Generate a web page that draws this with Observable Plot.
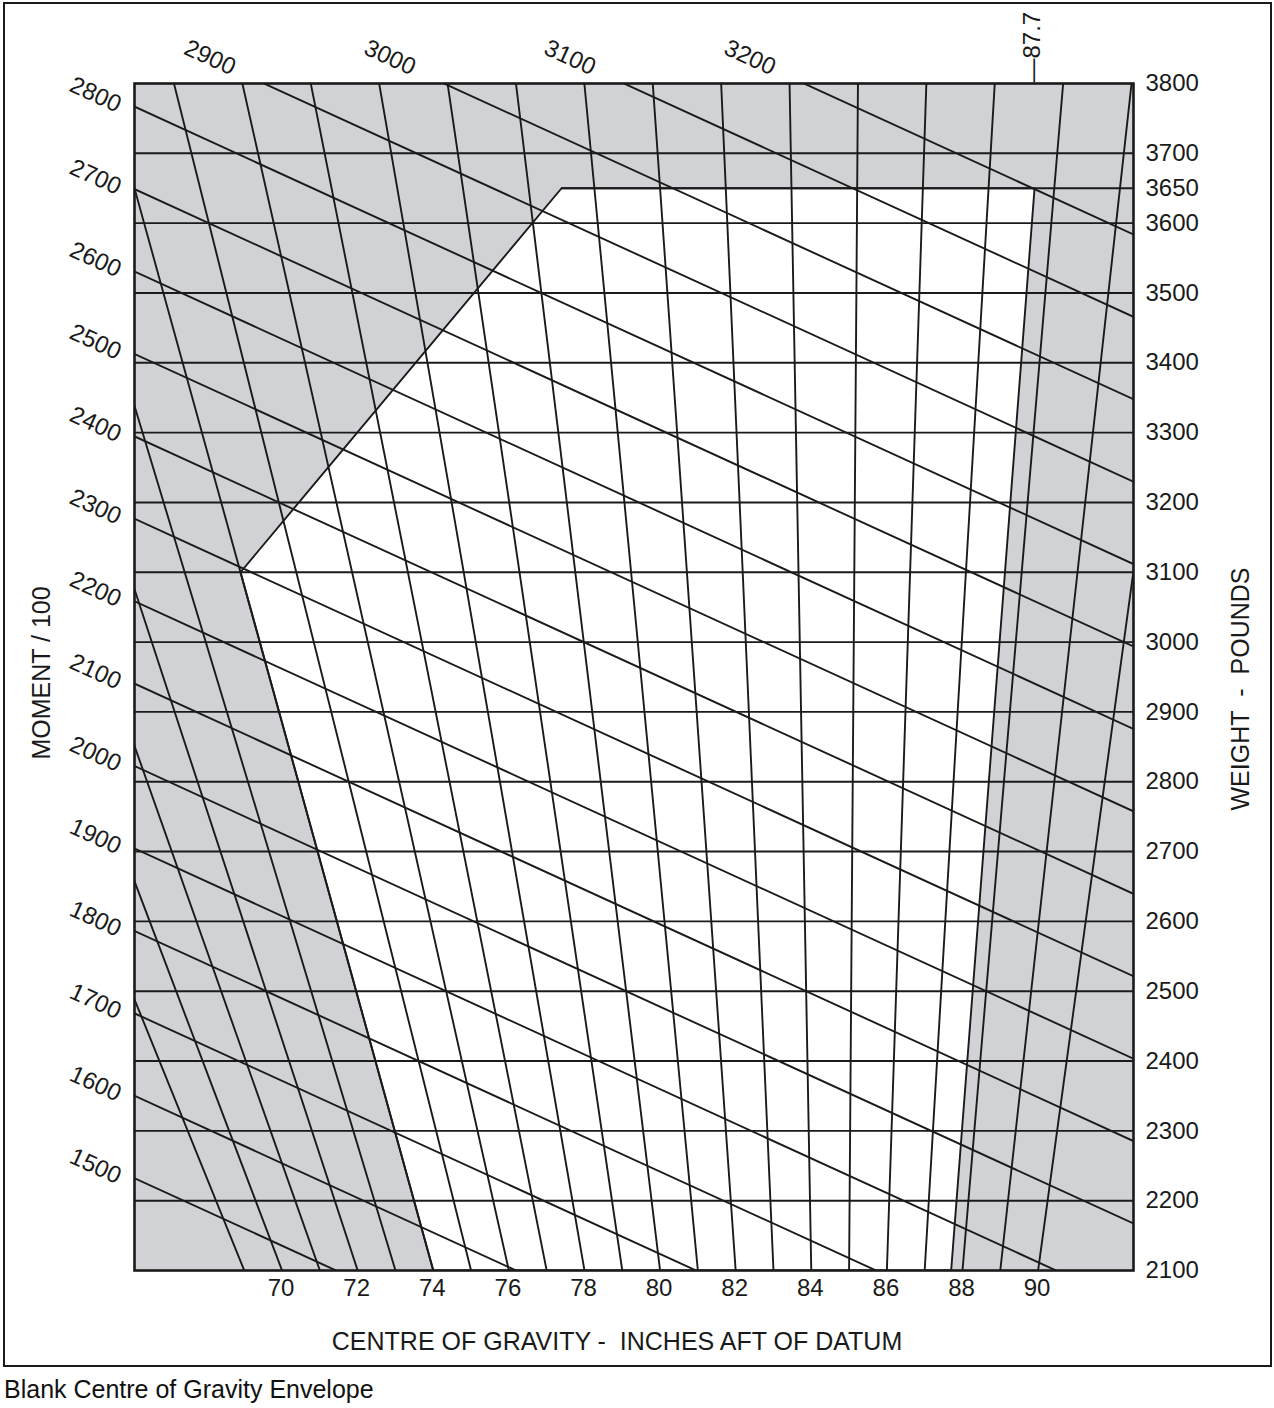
<!DOCTYPE html>
<html>
<head>
<meta charset="utf-8">
<script src="https://cdn.jsdelivr.net/npm/d3@7"></script>
<script src="https://cdn.jsdelivr.net/npm/@observablehq/plot@0.6"></script>
<style>
  body { margin: 0; background: #fff; font-family: "Liberation Sans", Arial, sans-serif; }
  #page { position: relative; width: 1274px; height: 1408px; }
  #chart { position: absolute; left: 0; top: 0; }
  #box { position: absolute; left: 3px; top: 2px; width: 1269px; height: 1365px; border: 2px solid #1a1a1a; box-sizing: border-box; pointer-events: none; }
  #caption { position: absolute; left: 4px; top: 1377px; font-size: 25px; line-height: 24px; color: #111; white-space: nowrap; }
</style>
</head>
<body>
<div id="page">
  <div id="chart"></div>
  <div id="box"></div>
  <div id="caption">Blank Centre of Gravity Envelope</div>
</div>
<script>
(function () {
  'use strict';

  // ---- data ----
  const weightTicks = [2100, 2200, 2300, 2400, 2500, 2600, 2700, 2800, 2900, 3000,
                       3100, 3200, 3300, 3400, 3500, 3600, 3650, 3700, 3800];
  const weightGrid = [2200, 2300, 2400, 2500, 2600, 2700, 2800, 2900, 3000,
                      3100, 3200, 3300, 3400, 3500, 3600, 3700];
  const cgLines = [69, 70, 71, 72, 73, 74, 75, 76, 77, 78, 79, 80,
                   81, 82, 83, 84, 85, 86, 87, 88, 89, 90];
  const cgLabels = [70, 72, 74, 76, 78, 80, 82, 84, 86, 88, 90];
  const momentLines = [1500, 1600, 1700, 1800, 1900, 2000, 2100, 2200, 2300,
                       2400, 2500, 2600, 2700, 2800, 2900, 3000, 3100, 3200];
  const momentSide = [1500, 1600, 1700, 1800, 1900, 2000, 2100,
                      2200, 2300, 2400, 2500, 2600, 2700, 2800];
  const momentTop = [2900, 3000, 3100, 3200];
  const envelope = [
    { cg: 74.0, w: 2100 },
    { cg: 74.0, w: 3100 },
    { cg: 80.5, w: 3650 },
    { cg: 87.7, w: 3650 },
    { cg: 87.7, w: 2100 },
    { cg: 74.0, w: 2100 }
  ];
  const aftLimit = 87.7;
  const topEdge = { cg: 80.5, w: 3650 };

  // ---- chart geometry: sheared axes, x = moment/100 - SKEW * weight ----
  const SKEW = 0.8471;
  const xDomain = [-390.9, 164.1];
  const yDomain = [2100, 3800];
  const ink = '#1a1a1a';
  const shade = '#d0d2d6';
  const lw = 1.9;
  const slant = 24.6;

  const sx = (moment, w) => moment - SKEW * w;
  const cgX = (cg, w) => sx(cg * w / 100, w);

  const cgSegs = cgLines.flatMap(cg => [{ cg, w: 1900 }, { cg, w: 4000 }]);
  const momentSegs = momentLines.flatMap(m => [{ m, w: 1900 }, { m, w: 4300 }]);

  const chart = Plot.plot({
    width: 1274,
    height: 1366,
    marginLeft: 134,
    marginRight: 141,
    marginTop: 83,
    marginBottom: 96,
    style: {
      background: 'transparent',
      color: ink,
      fontSize: '24px',
      fontFamily: '"Liberation Sans", Arial, sans-serif',
      overflow: 'visible'
    },
    x: { domain: xDomain, axis: null },
    y: { domain: yDomain },
    marks: [
      // shaded background and the white envelope
      Plot.frame({ fill: shade, stroke: null }),
      Plot.line(envelope, { x: d => cgX(d.cg, d.w), y: 'w', fill: 'white', stroke: null }),

      // weight grid
      Plot.ruleY(weightGrid, { stroke: ink, strokeWidth: lw }),
      Plot.ruleY([topEdge.w], { x1: () => cgX(topEdge.cg, topEdge.w), x2: () => xDomain[1], stroke: ink, strokeWidth: lw }),

      // CG lines and moment lines
      Plot.line(cgSegs, { x: d => cgX(d.cg, d.w), y: 'w', z: 'cg', stroke: ink, strokeWidth: lw, clip: true }),
      Plot.line(momentSegs, { x: d => sx(d.m, d.w), y: 'w', z: 'm', stroke: ink, strokeWidth: lw, clip: true }),

      // envelope outline
      Plot.line(envelope, { x: d => cgX(d.cg, d.w), y: 'w', stroke: ink, strokeWidth: lw, clip: true }),

      Plot.frame({ stroke: ink, strokeWidth: 2.6 }),

      // right weight axis
      Plot.axisY({ anchor: 'right', ticks: weightTicks, tickSize: 0, tickPadding: 12,
                   tickFormat: d => String(d), label: null, fontSize: 24 }),

      // moment labels along the left edge and the top
      Plot.text(momentSide, {
        x: () => xDomain[0], y: m => (m - xDomain[0]) / SKEW,
        text: d => String(d), rotate: slant, dx: -39, dy: -12, fontSize: 24
      }),
      Plot.text(momentTop, {
        x: m => sx(m, yDomain[1]), y: () => yDomain[1],
        text: d => String(d), rotate: slant, dx: -54, dy: -26, fontSize: 24
      }),

      // CG labels along the bottom
      Plot.text(cgLabels, {
        x: cg => cgX(cg, yDomain[0]), y: () => yDomain[0],
        text: d => String(d), dx: -1, dy: 18, fontSize: 24
      }),

      // aft limit marker
      Plot.text([aftLimit], {
        x: cg => cgX(cg, 3650), y: () => yDomain[1],
        text: d => '\u2014' + d.toFixed(1), rotate: -90, textAnchor: 'start', dx: -2, dy: -1, fontSize: 24
      }),

      // axis titles
      Plot.text(['MOMENT / 100'], {
        frameAnchor: 'left', text: d => d, rotate: -90, textAnchor: 'middle', lineAnchor: 'middle',
        dx: -93, dy: -4, fontSize: 25
      }),
      Plot.text(['WEIGHT\u00a0 -\u00a0 POUNDS'], {
        frameAnchor: 'right', text: d => d, rotate: -90, textAnchor: 'middle', lineAnchor: 'middle',
        dx: 107, dy: 12, fontSize: 25
      }),
      Plot.text(['CENTRE OF GRAVITY -\u00a0 INCHES AFT OF DATUM'], {
        frameAnchor: 'bottom', text: d => d, textAnchor: 'middle', lineAnchor: 'middle',
        dx: -17, dy: 71, fontSize: 25
      })
    ]
  });

  document.getElementById('chart').appendChild(chart);
})();
</script>
</body>
</html>
